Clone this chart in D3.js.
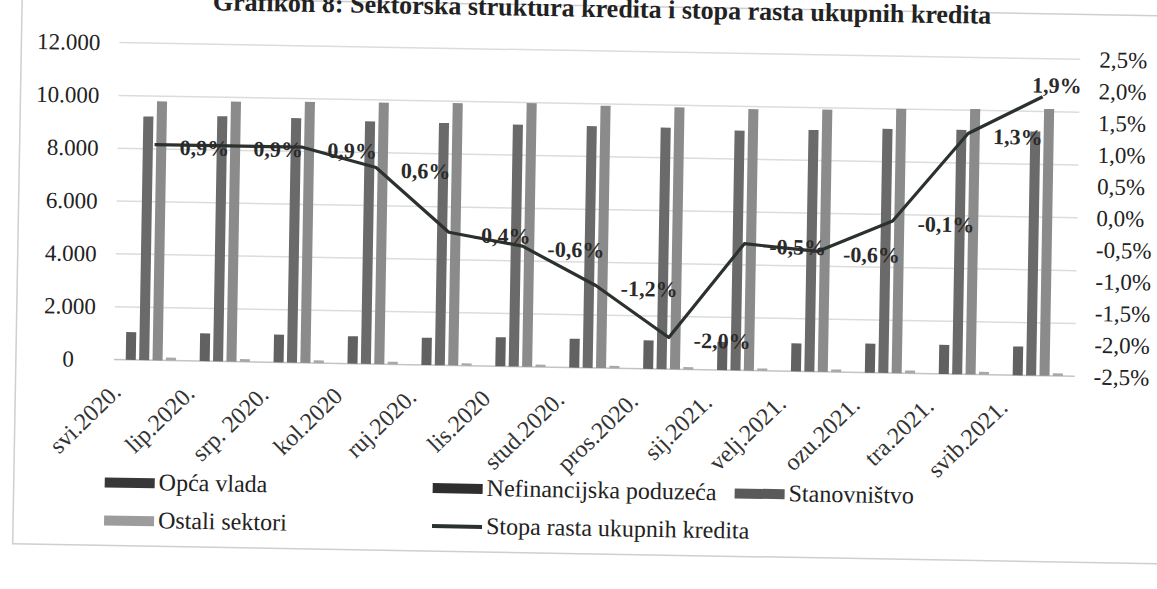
<!DOCTYPE html>
<html>
<head>
<meta charset="utf-8">
<script src="https://cdn.jsdelivr.net/npm/d3@7"></script>
<style>
body { margin: 0; background: #fff; }
text { font-family: "Liberation Serif", "Times New Roman", serif; }
</style>
</head>
<body>
<svg width="1157" height="589"></svg>
<script>
// months on the x axis
var months = ["svi.2020.", "lip.2020.", "srp. 2020.", "kol.2020", "ruj.2020.", "lis.2020", "stud.2020.",
  "pros.2020.", "sij.2021.", "velj.2021.", "ozu.2021.", "tra.2021.", "svib.2021."];

// credits by sector (left axis)
var opcaVlada     = [1050, 1050, 1050, 1040, 1030, 1100, 1090, 1080, 1070, 1060, 1100, 1100, 1090];
var nefinancijska = [9220, 9280, 9260, 9180, 9170, 9160, 9150, 9140, 9080, 9150, 9240, 9250, 9240];
var stanovnistvo  = [9800, 9840, 9880, 9900, 9930, 9980, 9930, 9920, 9900, 9930, 10010, 10050, 10100];
var ostali        = [110, 100, 100, 100, 90, 90, 90, 90, 90, 100, 110, 110, 100];

// growth rate of total credits, % (right axis)
var stopaRasta = [0.9, 0.9, 0.9, 0.6, -0.4, -0.6, -1.2, -2.0, -0.5, -0.6, -0.1, 1.3, 1.9];

var leftTicks = [0, 2000, 4000, 6000, 8000, 10000, 12000];
var rightTicks = [-2.5, -2, -1.5, -1, -0.5, 0, 0.5, 1, 1.5, 2, 2.5];

var seriesNames = ["Opća vlada", "Nefinancijska poduzeća", "Stanovništvo", "Ostali sektori"];
var lineName = "Stopa rasta ukupnih kredita";
var title = "Grafikon 8: Sektorska struktura kredita i stopa rasta ukupnih kredita";

var barColors = ["#616161", "#6a6a6a", "#8b8b8b", "#a8a8a8"];
var legendColors = ["#383838", "#2e2e2e", "#5a5a5a", "#9c9c9c"];
var lineColor = "#2b322e";

var svg = d3.select("svg");
// the scanned original is slightly tilted
var root = svg.append("g").attr("transform", "rotate(1,600,300)");

var plotL = 115, plotR = 1076, plotT = 51, plotB = 368;

var x0 = d3.scaleBand().domain(months).range([plotL, plotR]).paddingInner(0.32).paddingOuter(0.16);
var x1 = d3.scaleBand().domain(d3.range(4)).range([0, x0.bandwidth()]).paddingInner(0.25);
var y = d3.scaleLinear().domain([0, 12000]).range([plotB, plotT]);
var y2 = d3.scaleLinear().domain([-2.5, 2.5]).range([plotB, plotT]);

var pct = function(d) { return d3.format(".1f")(d).replace(".", ",").replace("−", "-") + "%"; };

// frame
root.append("rect")
  .attr("x", 17).attr("y", 6).attr("width", 1160).attr("height", 548)
  .attr("fill", "none").attr("stroke", "#cfcfcf").attr("stroke-width", 1.5);

// title (cut at the top of the scan)
root.append("text")
  .attr("x", 597).attr("y", 17)
  .attr("text-anchor", "middle")
  .attr("font-size", "26px").attr("font-weight", "bold").attr("fill", "#222")
  .text(title);

// gridlines
root.append("g").selectAll("line")
  .data(leftTicks).enter().append("line")
  .attr("x1", plotL).attr("x2", plotR)
  .attr("y1", function(d) { return y(d); })
  .attr("y2", function(d) { return y(d); })
  .attr("stroke", function(d) { return d === 0 ? "#c4c4c4" : "#dcdcdc"; })
  .attr("stroke-width", 1.5);

// left axis
var gl = root.append("g")
  .attr("transform", "translate(" + plotL + ",0)")
  .call(d3.axisLeft(y).tickValues(leftTicks).tickSize(0).tickPadding(19)
    .tickFormat(function(d) { return d === 0 ? "0" : d3.format(",")(d).replace(/,/g, "."); }));
gl.select(".domain").remove();
gl.selectAll("text")
  .attr("font-size", "23px").attr("fill", "#222")
  .attr("font-family", "Liberation Serif")
  .attr("dx", function(d) { return d === 0 ? -21 : 0; });

// right axis
var gr = root.append("g")
  .attr("transform", "translate(" + plotR + ",0)")
  .call(d3.axisRight(y2).tickValues(rightTicks).tickSize(0).tickPadding(19).tickFormat(pct));
gr.select(".domain").remove();
gr.selectAll("text")
  .attr("font-size", "23px").attr("fill", "#222")
  .attr("font-family", "Liberation Serif");

// bars
var allSeries = [opcaVlada, nefinancijska, stanovnistvo, ostali];
var groups = root.append("g").selectAll("g")
  .data(months).enter().append("g")
  .attr("transform", function(d) { return "translate(" + x0(d) + ",0)"; });

groups.selectAll("rect")
  .data(function(d, i) { return allSeries.map(function(s, k) { return { k: k, v: s[i] }; }); })
  .enter().append("rect")
  .attr("x", function(d) { return x1(d.k); })
  .attr("width", x1.bandwidth())
  .attr("y", function(d) { return y(d.v); })
  .attr("height", function(d) { return y(0) - y(d.v); })
  .attr("fill", function(d) { return barColors[d.k]; });

// x labels
root.append("g").selectAll("text")
  .data(months).enter().append("text")
  .attr("transform", function(d) {
    var cx = x0(d) + x0.bandwidth() / 2 - 28;
    return "translate(" + cx + "," + (plotB + 34) + ") rotate(-45)";
  })
  .attr("text-anchor", "end")
  .attr("font-size", "24px").attr("fill", "#333")
  .text(function(d) { return d; });

// growth line
var cxOf = function(i) { return x0(months[i]) + x0.bandwidth() / 2; };
var line = d3.line()
  .x(function(d, i) { return cxOf(i); })
  .y(function(d) { return y2(d); });

root.append("path")
  .datum(stopaRasta)
  .attr("d", line)
  .attr("fill", "none")
  .attr("stroke", lineColor)
  .attr("stroke-width", 3.2)
  .attr("stroke-linejoin", "round");

// data labels
var last = stopaRasta.length - 1;
root.append("g").selectAll("text")
  .data(stopaRasta).enter().append("text")
  .attr("x", function(d, i) { return i === last ? cxOf(i) + 14 : cxOf(i) + 25; })
  .attr("y", function(d, i) { return i === last ? y2(d) - 4 : y2(d) + 10; })
  .attr("text-anchor", function(d, i) { return i === last ? "middle" : "start"; })
  .attr("font-size", "22px").attr("font-weight", "bold").attr("fill", "#2a2a2a")
  .text(pct);

// legend
var legendPos = [[108, 491], [436, 491], [738, 491], [108, 529]];
var lg = root.append("g");
seriesNames.forEach(function(name, k) {
  var p = legendPos[k];
  lg.append("rect")
    .attr("x", p[0]).attr("y", p[1] - 5).attr("width", 50).attr("height", 10)
    .attr("fill", legendColors[k]);
  lg.append("text")
    .attr("x", p[0] + 54).attr("y", p[1] + 7)
    .attr("font-size", "24px").attr("fill", "#222")
    .text(name);
});
lg.append("line")
  .attr("x1", 436).attr("x2", 486).attr("y1", 529).attr("y2", 529)
  .attr("stroke", lineColor).attr("stroke-width", 4);
lg.append("text")
  .attr("x", 490).attr("y", 536)
  .attr("font-size", "24px").attr("fill", "#222")
  .text(lineName);
</script>
</body>
</html>
